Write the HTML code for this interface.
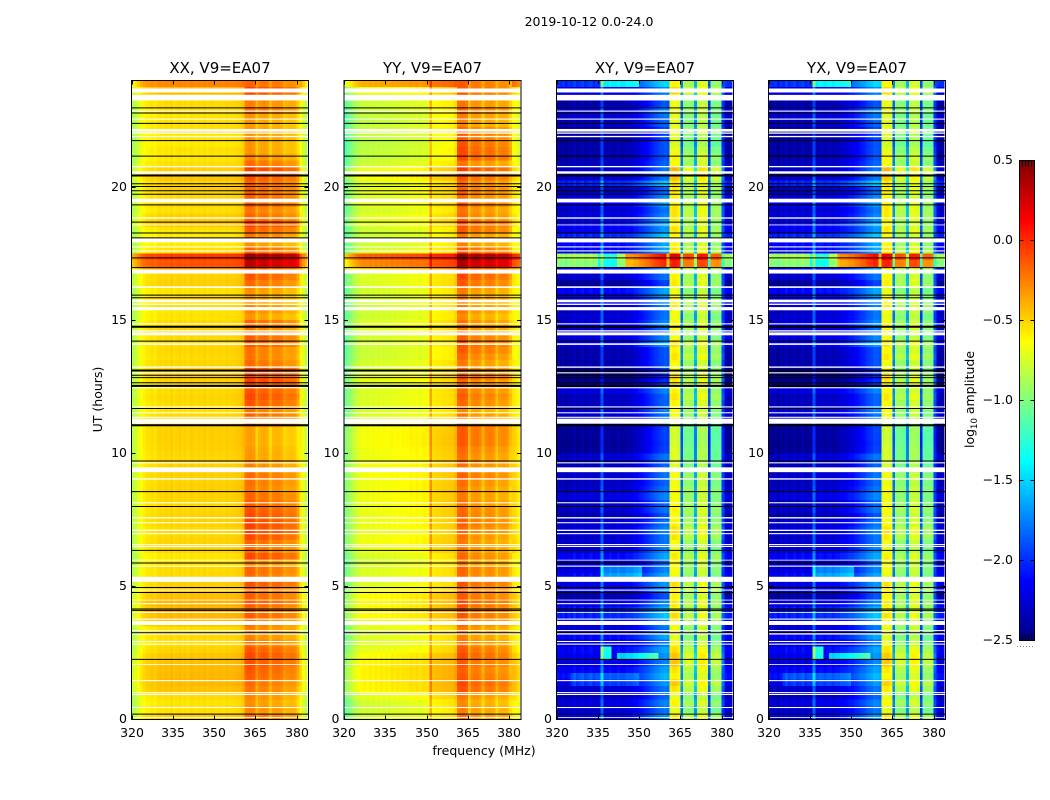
<!DOCTYPE html>
<html lang="en">
<head>
<meta charset="utf-8">
<title>2019-10-12 0.0-24.0</title>
<style>
html,body{margin:0;padding:0;background:#fff;}
svg{display:block;}
text{font-family:"DejaVu Sans","Liberation Sans",sans-serif;fill:#000;}
</style>
</head>
<body>
<svg id="figure" xmlns="http://www.w3.org/2000/svg" width="1050" height="800" viewBox="0 0 1050 800">
  <rect x="0" y="0" width="1050" height="800" fill="#fff"/>
  <text x="589" y="26" font-size="12.5" text-anchor="middle">2019-10-12 0.0-24.0</text>
  <text transform="translate(102,399.5) rotate(-90)" font-size="12.5" text-anchor="middle">UT (hours)</text>
  <text x="484" y="755" font-size="12.5" text-anchor="middle">frequency (MHz)</text>
  <text transform="translate(974,399.5) rotate(-90)" font-size="12.5" text-anchor="middle">log<tspan font-size="8.5" dy="3">10</tspan><tspan dy="-3"> amplitude</tspan></text>
  <g id="panels"></g>
  <g id="colorbar"></g>
</svg>
<script>
// ---- Axis labels ----
const xTicks = [320, 335, 350, 365, 380];
const yTicks = [0, 5, 10, 15, 20];
const colorbarTicks = [0.5, 0.0, -0.5, -1.0, -1.5, -2.0, -2.5];
const panelTitles = ['XX, V9=EA07', 'YY, V9=EA07', 'XY, V9=EA07', 'YX, V9=EA07'];

// ---- Channel spectra: log10 amplitude per 1 MHz channel, 320..383 MHz ----
const spectrumXX = [-.85,-.8,-.72,-.65,-.6,-.57,-.56,-.54,-.57,-.53,-.52,-.54,-.51,-.53,-.5,-.54,-.52,-.5,-.53,-.51,
  -.54,-.5,-.51,-.53,-.51,-.52,-.5,-.53,-.51,-.5,-.52,-.51,-.51,-.52,-.5,-.51,-.51,-.5,-.49,-.48,
  -.45,-.28,-.26,-.25,-.28,-.42,-.33,-.31,-.3,-.33,-.44,-.35,-.33,-.33,-.35,-.44,-.41,-.39,-.39,-.41,-.5,-.6,-.72,-.82];
const spectrumYY = [-1.05,-1.0,-.92,-.86,-.8,-.76,-.74,-.72,-.74,-.71,-.74,-.7,-.73,-.7,-.72,-.7,-.72,-.68,-.71,-.68,
  -.7,-.68,-.69,-.68,-.66,-.68,-.66,-.68,-.66,-.65,-.66,-.35,-.58,-.56,-.56,-.55,-.54,-.54,-.53,-.52,
  -.48,-.24,-.22,-.22,-.25,-.48,-.34,-.32,-.32,-.35,-.48,-.36,-.34,-.34,-.37,-.5,-.4,-.38,-.38,-.41,-.52,-.55,-.58,-.65];
const spectrumXY = [-2.32,-2.37,-2.32,-2.42,-2.32,-2.37,-2.27,-2.37,-2.32,-2.27,-2.37,-2.32,-2.27,-2.37,-2.32,-2.32,-1.9,
  -2.32,-2.32,-2.27,-2.32,-2.32,-2.27,-2.32,-2.32,-2.27,-2.27,-2.27,-2.22,-2.2,-2.15,-2.12,-2.08,-2.05,-2.0,-1.95,-1.92,-1.88,-1.85,-1.82,
  -1.85,-.68,-.64,-.64,-.7,-1.8,-.95,-.92,-.94,-.98,-1.65,-.8,-.77,-.77,-.82,-1.95,-1.02,-1.0,-.98,-1.02,-1.95,-2.3,-2.35,-2.35];
const spectrumYX = [-2.32,-2.37,-2.32,-2.42,-2.32,-2.37,-2.27,-2.37,-2.32,-2.27,-2.37,-2.32,-2.27,-2.37,-2.32,-2.32,-1.9,
  -2.32,-2.27,-2.27,-2.32,-2.27,-2.27,-2.32,-2.27,-2.27,-2.22,-2.22,-2.2,-2.15,-2.15,-2.1,-2.08,-2.02,-2.0,-1.95,-1.9,-1.88,-1.82,-1.82,
  -1.85,-.7,-.66,-.66,-.72,-1.8,-.96,-.94,-.95,-1.0,-1.65,-.81,-.79,-.79,-.84,-1.95,-1.02,-1.0,-1.0,-1.04,-1.95,-2.3,-2.35,-2.35];

// ---- Hourly row offsets, one value per 0.25 h from UT 0 to 24 ----
const xxBroad = [.03,-.02,-.03,-.01,.07,.09,.1,.09,.08,.06,.02,-.01,
  0,-.02,.07,.1,.1,.11,.08,.05,.03,0,0,-.03,
  -.04,.01,.02,.01,0,.02,.02,.01,.01,.02,.03,.02,
  .03,.03,.02,.01,.02,.03,.03,.03,.02,0,-.02,0,
  .01,0,.02,.03,.02,.01,0,.01,0,0,.02,0,
  -.03,-.03,-.02,-.01,-.03,.03,.02,.2,.4,.47,-.02,-.05,
  -.05,-.03,.05,.03,-.02,.02,0,.03,.02,.06,.03,-.02,
  -.04,-.03,-.05,-.04,-.02,-.02,-.03,-.02,0,.05,.08,.25];
const xxBand = [.05,0,-.03,0,.05,.08,.12,.14,.16,.18,.14,.05,
  0,.02,.05,.12,.1,.14,.12,.14,.16,.08,.1,0,
  .18,.08,.1,.18,.2,.2,.18,.16,.12,.1,.04,.06,
  .08,.06,0,-.05,-.06,-.08,-.08,-.08,.14,.1,.05,.14,
  .18,.15,.22,.2,.2,.08,.05,.06,.14,.12,.04,.1,
  -.05,0,-.02,-.05,-.03,.08,.14,.15,.6,.7,.1,-.03,
  .05,.12,.2,.1,.05,.14,.12,.12,.12,.16,.22,.08,
  0,-.05,-.05,-.03,-.05,-.06,-.04,.06,.02,.1,.2,.1];
const yyBroad = [-.02,-.04,-.03,.03,.12,.13,.14,.14,.12,.1,.03,0,
  0,0,.05,.1,.1,.1,.1,.05,0,0,0,-.03,
  -.02,.05,.06,.05,.04,.05,.05,.05,.06,.06,.07,.06,
  .07,.08,.06,.05,.06,.08,.08,.07,.03,0,-.02,0,
  0,0,.02,.03,-.02,-.02,-.05,-.05,-.03,-.03,0,0,
  -.04,-.04,-.03,-.02,-.03,0,0,.2,.45,.58,-.02,-.04,
  -.05,-.05,.02,.02,-.03,.02,0,.03,0,.08,.06,-.04,
  -.08,-.08,-.1,-.08,-.06,-.07,-.08,-.06,-.05,0,.05,.35];
const yyBand = [0,-.02,-.05,0,.12,.15,.1,.08,.1,.14,.1,.02,
  -.02,0,.05,.1,.1,.14,.1,.1,.12,.05,.06,-.02,
  .05,0,0,.02,.05,.08,.06,.05,.02,0,0,.03,
  .08,.05,.03,.02,.05,.1,.1,.1,.08,0,-.05,.05,
  .08,.05,.05,.12,.02,0,.05,.1,.12,.08,0,.02,
  -.05,0,-.02,-.02,0,.1,.15,.15,.6,.7,.1,-.02,
  0,.1,.12,.05,.02,.1,.05,.08,.05,.12,.18,.02,
  .15,.15,.12,.1,.05,-.03,0,.05,.02,.08,.1,.1];
const crossBroad = [.15,.05,.1,0,.05,.15,.25,.18,.1,.15,.2,.05,
  .2,.05,.1,.3,.25,.1,-.05,.1,.15,.2,.1,0,
  .2,.1,.05,.05,.1,.05,-.05,.05,0,.1,.05,0,
  .05,0,0,.05,-.1,-.12,-.1,-.1,0,.05,.1,0,
  0,.1,-.15,-.2,-.1,-.05,-.05,-.05,.15,.1,.05,.1,
  .05,.05,.1,.15,.2,-.1,.05,.2,1.35,1.45,.2,.2,
  .3,.15,.2,.1,.05,.15,.1,0,.3,.05,.05,0,
  -.05,-.05,-.05,-.1,-.1,0,.05,.1,-.05,.1,.1,.35];
const crossBand = [.1,-.05,.05,-.03,.1,.18,.05,.1,.2,.2,.12,0,
  -.05,0,.05,.12,.05,.1,.05,.1,.12,-.02,.02,.02,
  .08,-.02,0,.1,.12,.05,.02,.05,.02,0,.02,-.02,
  .02,-.05,-.07,-.08,-.08,-.1,-.12,-.1,-.08,0,.02,.05,
  .1,.05,.1,.12,.02,.02,.1,.05,.12,0,.05,.05,
  -.02,.03,.08,.03,-.03,.08,.05,.1,.7,.85,.1,.05,
  .05,.1,.05,.1,.1,.08,.05,.08,.1,.2,.25,.02,
  .05,-.02,-.1,-.05,0,-.05,-.05,0,-.02,.05,.15,.05];

// ---- Localised cross-hand emission: hour start, hour end, MHz start, MHz end, delta log10 amp ----
const crossPatches = [
  [23.75,24,336,350,.55],
  [17,17.5,335,342,-.4],
  [17,17.5,345,360,.5],
  [2.25,2.75,336,340,.8],
  [2.25,2.5,342,357,.65],
  [5.25,5.75,336,351,.45],
  [1.25,1.75,325,350,.2]
];

// ---- Flagged (white) time ranges in UT hours: start, end ----
const flaggedHours = [[23.55,23.7],[23.25,23.46],[22.83,22.87],[22.53,22.57],[22.08,22.18],[22,22.05],[21.87,21.92],
  [20.74,20.79],[20.5,20.59],[19.42,19.56],[18.81,18.86],[18.56,18.59],[17.92,18.08],[17.73,17.77],[17.58,17.62],
  [16.75,16.9],[16.21,16.27],[15.67,15.77],[15.57,15.62],[15.37,15.49],[14.84,14.88],[14.57,14.62],[14.43,14.54],
  [14.07,14.13],[13.21,13.26],[13,13.04],[12.44,12.48],[11.72,11.76],[11.5,11.54],[11.33,11.37],[11.11,11.3],
  [9.62,9.66],[9.29,9.47],[9.01,9.06],[8.12,8.16],[7.55,7.6],[7.37,7.41],[7.08,7.13],[6.96,7],[6.55,6.59],[6.48,6.52],
  [5.97,6],[5.74,5.78],[5.17,5.36],[4.84,4.88],[4.47,4.5],[4.33,4.37],[4,4.03],[3.75,3.79],[3.55,3.7],[3.32,3.36],
  [3.19,3.25],[2.91,2.95],[2.81,2.85],[2.05,2.08],[1.44,1.48],[.99,1.03],[.92,.96],[.43,.47],[.06,.09]];

// ---- Scan boundaries (black lines) in UT hours ----
const scanBoundaries = [22.97,22.78,22.39,21.74,21.16,20.12,20.02,19.86,19.73,19.33,18.68,18.27,18.09,17.34,16.97,
  15.94,15.84,14.21,12.93,12.84,12.65,11.68,9.71,8.56,8,6.35,5.88,4.96,4.77,4.15,4.1,3.26,2.26,.2];
const thickBoundaries = [20.43,14.75,13.11,12.53,11.05];

const SVG_NS = 'http://www.w3.org/2000/svg';
const plotTop = 80.5, plotBottom = 719.5, plotWidth = 177;
const panelLefts = [131.5, 344, 556.5, 768.5];
const freqMin = 320, freqMax = 384.3, hourMax = 24;
const bandStart = 361, bandEnd = 380;
const rowStep = 0.25;
const colorMin = -2.5, colorMax = 0.5;

function xScale(panelIndex, mhz) {
  return panelLefts[panelIndex] + (mhz - freqMin) / (freqMax - freqMin) * plotWidth;
}
function yScale(hour) {
  return plotBottom - hour / hourMax * (plotBottom - plotTop);
}
function clip01(v) { return Math.max(0, Math.min(1, v)); }
function jet(t) {
  const r = clip01(1.5 - Math.abs(4 * t - 3));
  const g = clip01(1.5 - Math.abs(4 * t - 2));
  const b = clip01(1.5 - Math.abs(4 * t - 1));
  return 'rgb(' + Math.round(r * 255) + ',' + Math.round(g * 255) + ',' + Math.round(b * 255) + ')';
}
function colorFor(v) { return jet(clip01((v - colorMin) / (colorMax - colorMin))); }
function node(tag, attrs) {
  const el = document.createElementNS(SVG_NS, tag);
  for (const k in attrs) el.setAttribute(k, attrs[k]);
  return el;
}

const panelData = [
  { spectrum: spectrumXX, broad: xxBroad, band: xxBand, patches: [] },
  { spectrum: spectrumYY, broad: yyBroad, band: yyBand, patches: [] },
  { spectrum: spectrumXY, broad: crossBroad, band: crossBand, patches: crossPatches },
  { spectrum: spectrumYX, broad: crossBroad, band: crossBand, patches: crossPatches }
];

function cellValue(data, row, ch) {
  const hour = row * rowStep;
  const mhz = freqMin + ch;
  const inBand = mhz >= bandStart && mhz <= bandEnd;
  let v = data.spectrum[ch] + (inBand ? data.band[row] : data.broad[row]);
  data.patches.forEach(function (p) {
    if (hour >= p[0] && hour < p[1] && mhz >= p[2] && mhz < p[3]) v += p[4];
  });
  return v;
}

const panelsRoot = document.getElementById('panels');
panelTitles.forEach(function (title, pi) {
  const data = panelData[pi];
  const g = node('g', {});
  
  

  const cells = node('g', { 'shape-rendering': 'crispEdges' });
  
  
  for (let row = 0; row < data.broad.length; row++) {
    for (let ch = 0; ch < data.spectrum.length; ch++) {
      const x0 = xScale(pi, freqMin + ch);
      const x1 = xScale(pi, freqMin + ch + 1);
      const yTop = yScale((row + 1) * rowStep);
      const yBot = yScale(row * rowStep);
      const cell = node('rect', { x: x0, y: yTop, width: x1 - x0, height: yBot - yTop, fill: colorFor(cellValue(data, row, ch)) });
      
      
      cells.appendChild(cell);
    }
  }
  g.appendChild(cells);

  const left = panelLefts[pi], right = left + plotWidth;

  flaggedHours.forEach(function (span) {
    const gap = node('rect', { x: left, y: yScale(span[1]), width: plotWidth, height: yScale(span[0]) - yScale(span[1]), fill: '#fff' });
    
    
    g.appendChild(gap);
  });
  scanBoundaries.forEach(function (h) {
    const line = node('line', { x1: left, x2: right, y1: yScale(h), y2: yScale(h), stroke: '#000', 'stroke-width': 1 });
    
    
    g.appendChild(line);
  });
  thickBoundaries.forEach(function (h) {
    const line = node('line', { x1: left, x2: right, y1: yScale(h), y2: yScale(h), stroke: '#000', 'stroke-width': 2 });
    
    
    g.appendChild(line);
  });

  const frame = node('rect', { x: left, y: plotTop, width: plotWidth, height: plotBottom - plotTop, fill: 'none', stroke: '#000', 'stroke-width': 1 });
  
  
  g.appendChild(frame);

  xTicks.forEach(function (f) {
    const x = Math.round(xScale(pi, f)) + 0.5;
    const bottom = node('line', { x1: x, x2: x, y1: plotBottom, y2: plotBottom - 4, stroke: '#000' });
    
    
    g.appendChild(bottom);
    const top = node('line', { x1: x, x2: x, y1: plotTop, y2: plotTop + 4, stroke: '#000' });
    
    
    g.appendChild(top);
    const label = node('text', { x: x - 0.5, y: 737, 'font-size': 12.5, 'text-anchor': 'middle' });
    
    
    label.textContent = f;
    g.appendChild(label);
  });
  yTicks.forEach(function (h) {
    const y = Math.round(yScale(h) - 0.5) + 0.5;
    if (h > 0) {
      const l = node('line', { x1: left, x2: left + 4, y1: y, y2: y, stroke: '#000' });
      
      
      g.appendChild(l);
      const r = node('line', { x1: right, x2: right - 4, y1: y, y2: y, stroke: '#000' });
      
      
      g.appendChild(r);
    }
    const label = node('text', { x: left - 4.5, y: y + 3.5, 'font-size': 12.5, 'text-anchor': 'end' });
    
    
    label.textContent = h;
    g.appendChild(label);
  });

  const heading = node('text', { x: left + plotWidth / 2, y: 73, 'font-size': 15, 'text-anchor': 'middle' });
  
  
  heading.textContent = title;
  g.appendChild(heading);

  panelsRoot.appendChild(g);
});

// ---- Colorbar ----
const cbRoot = document.getElementById('colorbar');
const cbLeft = 1019.5, cbRight = 1034.5, cbTop = 160.5, cbBottom = 640.5;
function cbScale(v) {
  return cbBottom - (v - colorMin) / (colorMax - colorMin) * (cbBottom - cbTop);
}
const cbSteps = 240;
const cbStrip = node('g', { 'shape-rendering': 'crispEdges' });


for (let i = 0; i < cbSteps; i++) {
  const v0 = colorMin + (colorMax - colorMin) * i / cbSteps;
  const v1 = colorMin + (colorMax - colorMin) * (i + 1) / cbSteps;
  const seg = node('rect', { x: cbLeft, y: cbScale(v1), width: cbRight - cbLeft, height: cbScale(v0) - cbScale(v1) + 0.5, fill: colorFor((v0 + v1) / 2) });
  
  
  cbStrip.appendChild(seg);
}
cbRoot.appendChild(cbStrip);
for (let x = cbLeft + 3; x < cbRight - 1; x += 3) {
  const topMinor = node('line', { x1: x, x2: x, y1: cbTop, y2: cbTop + 6, stroke: '#000' });
  
  
  cbRoot.appendChild(topMinor);
  const botMinor = node('line', { x1: x, x2: x, y1: cbBottom, y2: cbBottom - 6, stroke: '#000' });
  
  
  cbRoot.appendChild(botMinor);
}
const cbFrame = node('rect', { x: cbLeft, y: cbTop, width: cbRight - cbLeft, height: cbBottom - cbTop, fill: 'none', stroke: '#000', 'stroke-width': 1 });


cbRoot.appendChild(cbFrame);
colorbarTicks.forEach(function (v) {
  const y = Math.round(cbScale(v) - 0.5) + 0.5;
  if (v > colorMin && v < colorMax) {
    const a = node('line', { x1: cbLeft, x2: cbLeft + 4, y1: y, y2: y, stroke: '#000' });
    
    
    cbRoot.appendChild(a);
    const b = node('line', { x1: cbRight, x2: cbRight - 4, y1: y, y2: y, stroke: '#000' });
    
    
    cbRoot.appendChild(b);
  }
  const label = node('text', { x: 1013, y: y + 3.5, 'font-size': 12.5, 'text-anchor': 'end' });
  
  
  label.textContent = (v < 0 ? '\u2212' : '') + Math.abs(v).toFixed(1);
  cbRoot.appendChild(label);
});
const cbDots = node('line', { x1: 1017, x2: 1035, y1: 646.5, y2: 646.5, stroke: '#888', 'stroke-dasharray': '1 2' });


cbRoot.appendChild(cbDots);
</script>
</body>
</html>
